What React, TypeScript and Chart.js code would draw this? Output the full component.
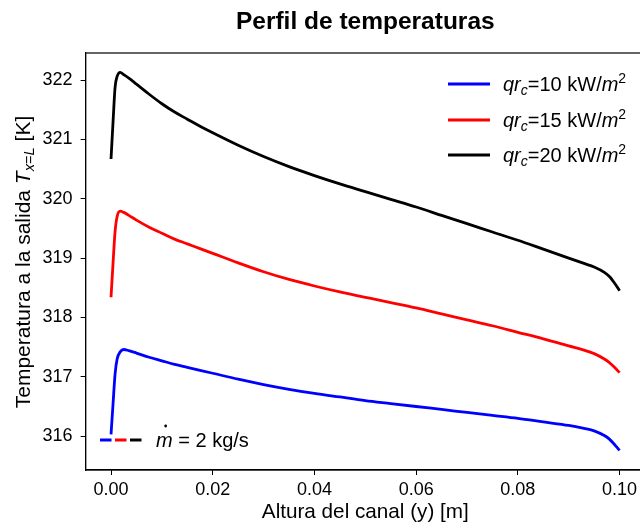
import React, { useEffect, useRef } from "react";
import { Chart, registerables } from "chart.js";

Chart.register(...registerables);

const TITLE = "Perfil de temperaturas";
const X_LABEL = "Altura del canal (y) [m]";
const Y_LABEL_MAIN = "Temperatura a la salida ";
const LEGEND_FLUX = ["10", "15", "20"];
const FLOW_TEXT = "2 kg/s";

const X_TICKS = [0, 0.02, 0.04, 0.06, 0.08, 0.1];
const Y_TICKS = [316, 317, 318, 319, 320, 321, 322];

const Y_POS = [
  0, 0.0004, 0.0008, 0.0012, 0.0018, 0.0025, 0.0035, 0.005, 0.0075, 0.01,
  0.0125, 0.015, 0.0175, 0.02, 0.025, 0.03, 0.035, 0.04, 0.045, 0.05, 0.055,
  0.06, 0.065, 0.07, 0.075, 0.08, 0.085, 0.09, 0.093, 0.095, 0.097, 0.098,
  0.099, 0.1,
];

const T_10 = [
  316.03, 316.55, 317.05, 317.3, 317.42, 317.46, 317.44, 317.4, 317.33, 317.27,
  317.21, 317.16, 317.11, 317.06, 316.96, 316.87, 316.79, 316.72, 316.66, 316.6,
  316.55, 316.5, 316.45, 316.4, 316.35, 316.3, 316.24, 316.18, 316.13, 316.09,
  316.01, 315.95, 315.86, 315.76,
];

const T_15 = [
  318.34, 318.92, 319.45, 319.7, 319.79, 319.77, 319.72, 319.64, 319.52, 319.42,
  319.32, 319.24, 319.16, 319.08, 318.92, 318.77, 318.64, 318.53, 318.43, 318.34,
  318.25, 318.16, 318.06, 317.96, 317.86, 317.75, 317.64, 317.52, 317.45, 317.39,
  317.3, 317.24, 317.16, 317.07,
];

const T_20 = [
  320.67, 321.3, 321.88, 322.06, 322.13, 322.09, 322.03, 321.93, 321.76, 321.6,
  321.46, 321.34, 321.22, 321.11, 320.9, 320.71, 320.54, 320.39, 320.25, 320.12,
  319.99, 319.86, 319.72, 319.58, 319.44, 319.3, 319.15, 319.0, 318.91, 318.85,
  318.76, 318.69, 318.58, 318.45,
];

const SERIES = [
  { values: T_10, color: "#0000ff", flux: LEGEND_FLUX[0] },
  { values: T_15, color: "#ff0000", flux: LEGEND_FLUX[1] },
  { values: T_20, color: "#000000", flux: LEGEND_FLUX[2] },
];

const FONT = "'Liberation Sans', Arial, Helvetica, sans-serif";

type Seg = { t: string; italic?: boolean; scale?: number; dy?: number };

function drawSegs(ctx: CanvasRenderingContext2D, segs: Seg[], x: number, y: number, size: number, align: "left" | "center") {
  const widths = segs.map((s) => {
    ctx.font = `${s.italic ? "italic " : ""}${size * (s.scale || 1)}px ${FONT}`;
    return ctx.measureText(s.t).width;
  });
  const total = widths.reduce((a, b) => a + b, 0);
  let cx = align === "center" ? x - total / 2 : x;
  ctx.textAlign = "left";
  ctx.textBaseline = "alphabetic";
  segs.forEach((s, i) => {
    ctx.font = `${s.italic ? "italic " : ""}${size * (s.scale || 1)}px ${FONT}`;
    ctx.fillText(s.t, cx, y + (s.dy || 0) * size);
    cx += widths[i];
  });
}

const decorPlugin = {
  id: "decor",
  afterDraw(chart: any) {
    const ctx: CanvasRenderingContext2D = chart.ctx;
    const a = chart.chartArea;
    ctx.save();
    // frame
    ctx.strokeStyle = "#000";
    ctx.lineWidth = 1.2;
    ctx.strokeRect(a.left, a.top, a.right - a.left, a.bottom - a.top);
    ctx.fillStyle = "#000";
    const cx = (a.left + a.right) / 2;
    // title
    ctx.font = `bold 24.5px ${FONT}`;
    ctx.textAlign = "center";
    ctx.textBaseline = "alphabetic";
    ctx.fillText(TITLE, cx, 29);
    // x label
    ctx.font = `20.7px ${FONT}`;
    ctx.fillText(X_LABEL, cx, 518);
    // y label
    ctx.save();
    ctx.translate(30, 262);
    ctx.rotate(-Math.PI / 2);
    drawSegs(
      ctx,
      [
        { t: Y_LABEL_MAIN },
        { t: "T", italic: true },
        { t: "x", italic: true, scale: 0.7, dy: 0.2 },
        { t: "=", scale: 0.7, dy: 0.2 },
        { t: "L", italic: true, scale: 0.7, dy: 0.2 },
        { t: " [K]" },
      ],
      0,
      0,
      21,
      "center"
    );
    ctx.restore();
    // legend
    const lx0 = 448;
    const lx1 = 490;
    const ly = [84, 120, 155];
    SERIES.forEach((s, i) => {
      ctx.strokeStyle = s.color;
      ctx.lineWidth = 3;
      ctx.beginPath();
      ctx.moveTo(lx0, ly[i]);
      ctx.lineTo(lx1, ly[i]);
      ctx.stroke();
      ctx.fillStyle = "#000";
      drawSegs(
        ctx,
        [
          { t: "qr", italic: true },
          { t: "c", italic: true, scale: 0.7, dy: 0.22 },
          { t: "=" + s.flux + " kW/" },
          { t: "m", italic: true },
          { t: "2", scale: 0.7, dy: -0.4 },
        ],
        503,
        ly[i] + 7,
        20,
        "left"
      );
    });
    // flow legend
    const fy = 440;
    const segsX = [100, 115, 130];
    SERIES.forEach((s, i) => {
      ctx.strokeStyle = s.color;
      ctx.lineWidth = 3;
      ctx.beginPath();
      ctx.moveTo(segsX[i], fy);
      ctx.lineTo(segsX[i] + 11.5, fy);
      ctx.stroke();
    });
    ctx.fillStyle = "#000";
    ctx.font = `italic 20px ${FONT}`;
    ctx.textAlign = "left";
    const mx = 156;
    ctx.fillText("m", mx, fy + 7);
    const mw = ctx.measureText("m").width;
    ctx.beginPath();
    ctx.arc(mx + mw * 0.58, fy - 14, 1.4, 0, Math.PI * 2);
    ctx.fill();
    ctx.font = `20px ${FONT}`;
    ctx.fillText(" = " + FLOW_TEXT, mx + mw, fy + 7);
    ctx.restore();
  },
};

export default function App() {
  const ref = useRef<HTMLCanvasElement | null>(null);

  useEffect(() => {
    if (!ref.current) return;
    const chart = new Chart(ref.current, {
      type: "scatter",
      data: {
        datasets: SERIES.map((s) => ({
          label: "qrc=" + s.flux + " kW/m2",
          data: Y_POS.map((x, i) => ({ x, y: s.values[i] })),
          borderColor: s.color,
          backgroundColor: s.color,
          borderWidth: 2.8,
          pointRadius: 0,
          showLine: true,
          cubicInterpolationMode: "monotone" as const,
        })),
      },
      options: {
        animation: false,
        responsive: false,
        maintainAspectRatio: false,
        layout: { padding: { top: 53, right: 55, left: 0, bottom: 0 } },
        plugins: {
          legend: { display: false },
          title: { display: false },
          tooltip: { enabled: false },
        },
        scales: {
          x: {
            type: "linear",
            min: -0.005,
            max: 0.105,
            afterBuildTicks: (scale: any) => {
              scale.ticks = X_TICKS.map((v) => ({ value: v }));
            },
            afterFit: (scale: any) => {
              scale.height = 55;
            },
            ticks: {
              color: "#000",
              font: { family: FONT, size: 18 },
              padding: 4,
              maxRotation: 0,
              autoSkip: false,
              callback: (v: any) => Number(v).toFixed(2),
            },
            grid: {
              display: true,
              drawOnChartArea: false,
              drawTicks: true,
              tickLength: 5,
              color: "#000",
            },
            border: { display: true, color: "#000", width: 1.2 },
          },
          y: {
            type: "linear",
            min: 315.43,
            max: 322.455,
            afterBuildTicks: (scale: any) => {
              scale.ticks = Y_TICKS.map((v) => ({ value: v }));
            },
            afterFit: (scale: any) => {
              scale.width = 85.6;
            },
            ticks: {
              color: "#000",
              font: { family: FONT, size: 18 },
              padding: 8,
              autoSkip: false,
              callback: (v: any) => String(v),
            },
            grid: {
              display: true,
              drawOnChartArea: false,
              drawTicks: true,
              tickLength: 5,
              color: "#000",
            },
            border: { display: true, color: "#000", width: 1.2 },
          },
        },
      },
      plugins: [decorPlugin],
    });
    return () => chart.destroy();
  }, []);

  return (
    <div
      style={{
        position: "absolute",
        left: 0,
        top: 0,
        width: 640,
        height: 525,
        overflow: "hidden",
        background: "#fff",
      }}
    >
      <canvas ref={ref} width={700} height={525} style={{ display: "block" }} />
    </div>
  );
}
